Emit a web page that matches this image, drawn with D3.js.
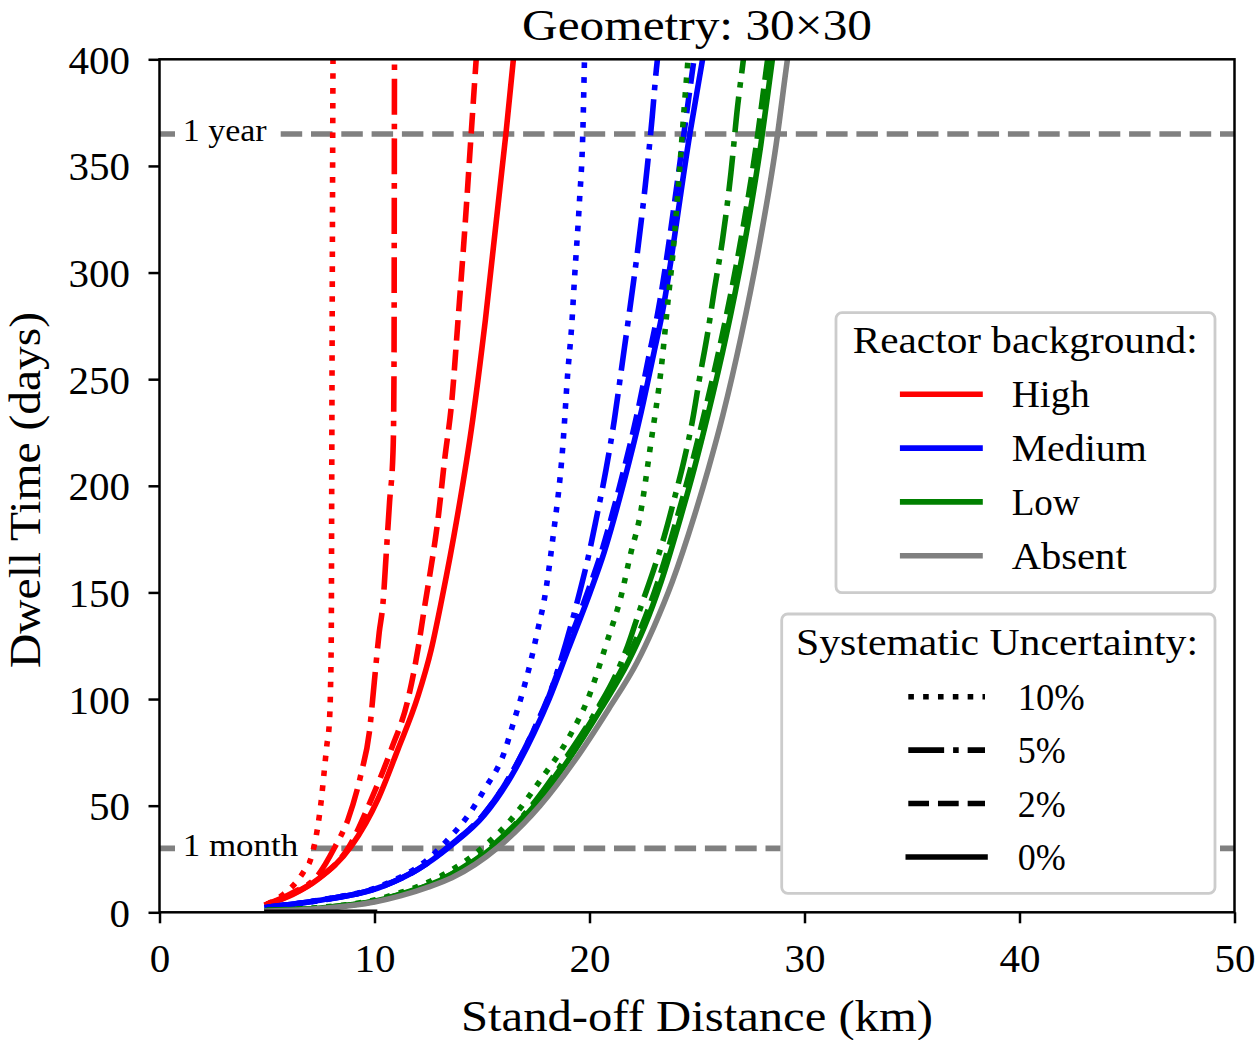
<!DOCTYPE html>
<html>
<head>
<meta charset="utf-8">
<script src="https://cdn.jsdelivr.net/npm/d3@7"></script>
<style>
  body { margin: 0; background: #fff; }
  text { font-family: "Liberation Serif", "Times New Roman", serif; fill: #000; }
</style>
</head>
<body>
<svg id="chart" width="1258" height="1040"></svg>
<script>
// ---- Dwell time (days) vs stand-off distance (km), one array per curve ----
// Reactor background: High
const high10 = [[5.0,3.8],[5.76,8.4],[6.27,13.1],[6.69,18.8],[7.06,25.8],[7.34,38.9],[7.53,53],[7.67,67],[7.78,78],[7.9,89],[7.95,103],[7.99,131],[8.01,200],[8.03,272],[8.07,400],[8.08,420]];
const high5  = [[5.0,3.8],[6.2,9.2],[7.34,17],[8.15,30.5],[8.77,43.6],[9.39,65.6],[9.76,84.4],[9.99,107.9],[10.22,131.3],[10.39,144.4],[10.55,168.8],[10.7,192.3],[10.86,215.7],[10.89,231.2],[10.91,262.6],[10.93,400],[10.94,420]];
const high2  = [[5.0,3.8],[6.2,8.6],[7.34,15.5],[8.83,31],[9.85,53],[10.78,76.4],[11.56,99.9],[12.02,123.3],[12.33,143.3],[12.56,157.4],[12.95,184],[13.26,212.1],[13.6,240.2],[13.88,277],[14.19,318.9],[14.5,365.6],[14.73,400],[14.8,410]];
const high0  = [[5.0,3.8],[6.2,8.4],[7.37,15.5],[8.92,31],[10.16,53],[11.09,76.4],[12.02,101.3],[12.64,123.3],[13.13,146.8],[13.83,184.3],[14.57,231.2],[15.16,278],[16.12,365.8],[16.46,400],[16.56,410]];
// Reactor background: Medium
const medium10 = [[5.0,2.4],[7.37,5.6],[10.47,13.1],[12.49,24.9],[13.57,35.8],[14.34,45.2],[15.12,57.7],[16.0,74],[16.51,90.5],[16.97,106.1],[17.29,118.6],[17.6,132.7],[17.9,146.8],[18.29,174.9],[18.76,218.7],[18.99,253.2],[19.17,274.8],[19.3,296.8],[19.53,332.9],[19.69,365.8],[19.76,396.9],[19.79,410]];
const medium5  = [[5.0,2.4],[7.37,5.4],[10.45,12.6],[12.0,20.2],[13.52,31.4],[15.05,45.5],[16.3,63.8],[17.36,84.4],[18.06,99.9],[18.68,118.6],[19.46,146.8],[19.92,165.6],[20.31,184.3],[20.77,207.7],[21.16,231.2],[21.53,257.9],[21.81,278.1],[22.4,323.6],[22.69,349.8],[22.92,373.3],[23.11,395.3],[23.16,400],[23.26,410]];
const medium2  = [[5.0,2.4],[7.37,5.5],[10.45,12.5],[12.0,20],[13.52,31.4],[15.05,45.5],[16.3,63.8],[17.36,84.4],[18.04,99.9],[18.91,123.3],[19.91,150.1],[20.55,168.8],[21.41,200.2],[22.23,234.4],[22.8,262.6],[23.12,278.1],[24.4,365.8],[24.86,400],[25.0,410]];
const medium0  = [[5.0,2.4],[7.37,5.5],[10.47,12.5],[12.0,20],[13.57,31.4],[15.1,45.5],[16.36,63.8],[17.43,84.4],[18.12,99.9],[19.01,123.3],[20.03,150.1],[20.68,168.8],[21.56,200.2],[22.4,234.4],[23.0,262.6],[23.33,278.1],[24.68,365.8],[25.26,400],[25.43,410]];
// Reactor background: Low
const low10 = [[5.0,0.9],[7.5,2.3],[10.0,5.8],[11.25,9.4],[12.49,14.1],[13.88,21.7],[15.12,31.1],[16.36,43.6],[17.75,62.4],[18.99,81.1],[19.92,99.9],[20.85,128],[21.47,148.3],[21.93,168.8],[22.32,184.3],[22.86,220.4],[23.33,254.6],[23.66,287.5],[23.87,307.8],[24.18,346.8],[24.41,378.1],[24.57,398.4],[24.66,410]];
const low5  = [[5.0,0.8],[7.5,2.1],[10.0,5.4],[11.25,8.6],[12.5,12.9],[13.55,17.8],[15.5,31.3],[17.35,50.5],[18.88,72],[20.4,96],[21.16,110],[21.78,125],[22.4,143.6],[22.94,159.3],[23.48,176.4],[23.94,193.7],[24.41,212.5],[24.8,231.2],[25.11,249.9],[25.5,271.9],[25.81,292.1],[26.19,315.6],[26.58,346.9],[26.89,378.1],[27.12,396.8],[27.28,410]];
const low2  = [[5.0,0.8],[7.5,2.05],[10.0,5.3],[11.25,8.5],[12.5,12.8],[13.55,17.6],[15.52,31],[17.36,50],[18.9,71],[20.43,95.5],[21.65,117],[22.42,134],[23.18,155],[24.1,186],[24.7,208],[25.32,233],[26.16,270],[27.0,313],[27.76,360],[28.22,395],[28.42,410]];
const low0  = [[5.0,0.8],[7.5,2.0],[10.0,5.2],[11.25,8.4],[12.5,12.6],[13.57,17.5],[15.57,31],[17.44,50],[18.99,71],[20.54,95.5],[21.78,117],[22.56,134],[23.33,155],[24.26,186],[24.87,208],[25.5,233],[26.35,270],[27.2,313],[27.97,360],[28.44,395],[28.64,410]];
// Reactor background: Absent (systematics make no difference)
const absent0 = [[5.0,0.6],[7.5,1.8],[10.0,4.8],[11.25,7.8],[12.5,11.8],[13.6,16.2],[15.75,30.5],[17.7,50],[19.3,71],[20.9,95.5],[22.2,117],[23.0,134],[23.85,155],[24.88,186],[25.53,208],[26.2,233],[27.05,270],[27.9,313],[28.68,360],[29.14,395],[29.34,410]];
// Black proxy segment left on the axis by the legend handles
const proxySegment = [[5,0],[10,0]];

// Reference dwell times
const refDays   = [365, 30];
const refLabels = ["1 year", "1 month"];

// Ticks and labels
const xTicks = [0, 10, 20, 30, 40, 50];
const yTicks = [0, 50, 100, 150, 200, 250, 300, 350, 400];
const backgrounds = ["High", "Medium", "Low", "Absent"];
const systematics = ["10%", "5%", "2%", "0%"];

// ---- styles ----
const LW = 5.6;
const colorByBg = { High: "#ff0000", Medium: "#0000ff", Low: "#008000", Absent: "#808080" };
const dashBySys = {
  "10%": [LW, LW * 1.65],
  "5%":  [LW * 6.4, LW * 1.6, LW, LW * 1.6],
  "2%":  [LW * 3.7, LW * 1.6],
  "0%":  null
};

const curves = [
  { bg: "High",   sys: "10%", pts: high10 },
  { bg: "High",   sys: "5%",  pts: high5 },
  { bg: "High",   sys: "2%",  pts: high2 },
  { bg: "High",   sys: "0%",  pts: high0 },
  { bg: "Medium", sys: "10%", pts: medium10 },
  { bg: "Medium", sys: "5%",  pts: medium5 },
  { bg: "Medium", sys: "2%",  pts: medium2 },
  { bg: "Medium", sys: "0%",  pts: medium0 },
  { bg: "Low",    sys: "10%", pts: low10 },
  { bg: "Low",    sys: "5%",  pts: low5 },
  { bg: "Low",    sys: "2%",  pts: low2 },
  { bg: "Low",    sys: "0%",  pts: low0 },
  { bg: "Absent", sys: "0%",  pts: absent0 }
];

// ---- layout ----
const W = 1258, H = 1040;
const plot = { left: 159.5, right: 1234.5, top: 59.3, bottom: 912.3 };
const svg = d3.select("#chart");
svg.append("rect").attr("width", W).attr("height", H).attr("fill", "#fff");

const x = d3.scaleLinear().domain([0, 50]).range([plot.left, plot.right]);
const y = d3.scaleLinear().domain([0, 400]).range([plot.bottom, plot.top]);

svg.append("defs").append("clipPath").attr("id", "plotClip")
  .append("rect")
  .attr("x", plot.left).attr("y", plot.top)
  .attr("width", plot.right - plot.left).attr("height", plot.bottom - plot.top);

function addText(parent, str, px, py, size, anchor, width) {
  const t = parent.append("text")
    .attr("x", px).attr("y", py)
    .attr("font-size", size)
    .attr("text-anchor", anchor || "start")
    .text(str);
  if (width) t.attr("textLength", width).attr("lengthAdjust", "spacingAndGlyphs");
  return t;
}

const plotG = svg.append("g").attr("clip-path", "url(#plotClip)");

// Reference lines (1 year, 1 month)
plotG.selectAll("line.ref").data(refDays).join("line")
  .attr("class", "ref")
  .attr("x1", x(0)).attr("x2", x(50))
  .attr("y1", d => y(d)).attr("y2", d => y(d))
  .attr("stroke", "#808080").attr("stroke-width", LW)
  .attr("stroke-dasharray", "21.5,8.8");

// Curves
const line = d3.line().x(d => x(d[0])).y(d => y(d[1])).curve(d3.curveMonotoneX);
plotG.selectAll("path.curve").data(curves).join("path")
  .attr("class", "curve")
  .attr("d", d => line(d.pts))
  .attr("fill", "none")
  .attr("stroke", d => colorByBg[d.bg])
  .attr("stroke-width", LW)
  .attr("stroke-linejoin", "round")
  .attr("stroke-linecap", d => d.sys === "0%" ? "square" : "butt")
  .attr("stroke-dasharray", d => dashBySys[d.sys] ? dashBySys[d.sys].join(",") : null);

const straight = d3.line().x(d => x(d[0])).y(d => y(d[1]));
plotG.append("path")
  .attr("d", straight(proxySegment))
  .attr("fill", "none").attr("stroke", "#000")
  .attr("stroke-width", LW).attr("stroke-linecap", "square");

// Reference labels with white boxes
const refWidths = { "1 year": 84, "1 month": 115.6 };
refDays.forEach((d, i) => {
  const g = svg.append("g");
  const box = g.append("rect").attr("fill", "#fff");
  const t = addText(g, refLabels[i], 182.7, y(d) + 7.2, 31, "start", refWidths[refLabels[i]]);
  const bb = t.node().getBBox();
  box.attr("x", 175).attr("y", bb.y - 4)
     .attr("width", bb.x + bb.width + 7.7 - 175).attr("height", bb.height + 8);
});

// Axes
const xAxis = d3.axisBottom(x).tickValues(xTicks).tickSize(11).tickSizeOuter(0).tickFormat(d3.format("d"));
const gx = svg.append("g").attr("transform", `translate(0,${plot.bottom})`).call(xAxis)
  .attr("font-family", null).attr("font-size", null);
gx.select(".domain").remove();
gx.selectAll(".tick line").attr("stroke", "#000").attr("stroke-width", 2.5);
gx.selectAll(".tick text").attr("y", 59.7).attr("dy", null).attr("font-size", 41).attr("fill", "#000");

const yAxis = d3.axisLeft(y).tickValues(yTicks).tickSize(11).tickSizeOuter(0).tickFormat(d3.format("d"));
const gy = svg.append("g").attr("transform", `translate(${plot.left},0)`).call(yAxis)
  .attr("font-family", null).attr("font-size", null);
gy.select(".domain").remove();
gy.selectAll(".tick line").attr("stroke", "#000").attr("stroke-width", 2.5);
gy.selectAll(".tick text").attr("x", -29.5).attr("dy", "0.34em").attr("font-size", 41).attr("fill", "#000");

// Frame
svg.append("rect")
  .attr("x", plot.left).attr("y", plot.top)
  .attr("width", plot.right - plot.left).attr("height", plot.bottom - plot.top)
  .attr("fill", "none").attr("stroke", "#000").attr("stroke-width", 2.5);

// Titles
addText(svg, "Geometry: 30×30", (plot.left + plot.right) / 2, 39.5, 44, "middle", 350);
addText(svg, "Stand-off Distance (km)", (plot.left + plot.right) / 2, 1031, 45, "middle", 472);
addText(svg, "Dwell Time (days)", 0, 0, 44, "middle", 356)
  .attr("transform", "translate(40,490) rotate(-90)");

// Legend: reactor background
const leg1 = svg.append("g");
leg1.append("rect").attr("x", 836).attr("y", 312.7).attr("width", 379).attr("height", 280)
  .attr("rx", 6).attr("fill", "#fff").attr("stroke", "#cccccc").attr("stroke-width", 2.8);
addText(leg1, "Reactor background:", 852.7, 353, 38, "start", 345);
const bgWidths = { High: 78, Medium: 135, Low: 68, Absent: 115 };
backgrounds.forEach((b, i) => {
  const ly = 394.3 + i * 53.8;
  leg1.append("line").attr("x1", 902.7).attr("x2", 980).attr("y1", ly).attr("y2", ly)
    .attr("stroke", colorByBg[b]).attr("stroke-width", LW).attr("stroke-linecap", "square");
  addText(leg1, b, 1011.7, ly + 13, 38, "start", bgWidths[b]);
});

// Legend: systematic uncertainty
const leg2 = svg.append("g");
leg2.append("rect").attr("x", 781.7).attr("y", 614).attr("width", 433.3).attr("height", 279.3)
  .attr("rx", 6).attr("fill", "#fff").attr("stroke", "#cccccc").attr("stroke-width", 2.8);
addText(leg2, "Systematic Uncertainty:", 796, 655, 38, "start", 402);
const sysWidths = { "10%": 67, "5%": 48, "2%": 48, "0%": 48 };
systematics.forEach((s, i) => {
  const ly = 696.7 + i * 53.43;
  leg2.append("line").attr("x1", 908.3).attr("x2", 985).attr("y1", ly).attr("y2", ly)
    .attr("stroke", "#000").attr("stroke-width", LW)
    .attr("stroke-linecap", s === "0%" ? "square" : "butt")
    .attr("stroke-dasharray", dashBySys[s] ? dashBySys[s].join(",") : null);
  addText(leg2, s, 1017.7, ly + 13.3, 38, "start", sysWidths[s]);
});
</script>
</body>
</html>
